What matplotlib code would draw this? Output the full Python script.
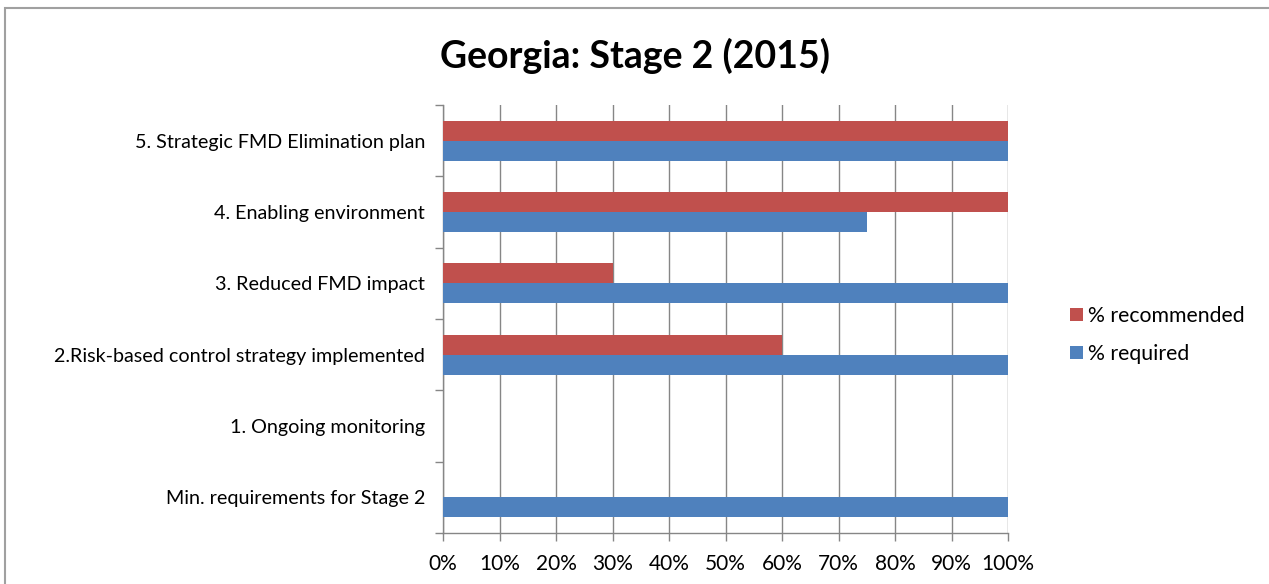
import matplotlib
matplotlib.use("Agg")
import matplotlib.pyplot as plt
import numpy as np
from matplotlib.patches import Rectangle
from matplotlib.ticker import FixedLocator

categories = ["Min. requirements for Stage 2", "1. Ongoing monitoring",
              "2.Risk-based control strategy implemented", "3. Reduced FMD impact",
              "4. Enabling environment", "5. Strategic FMD Elimination plan"]
required = [100, 0, 100, 100, 75, 100]
recommended = [0, 0, 60, 30, 100, 100]
xtick_labels = ["0%", "10%", "20%", "30%", "40%", "50%", "60%", "70%", "80%", "90%", "100%"]

plt.rcParams['font.family'] = ['Lato', 'DejaVu Sans']

W, H = 1269, 584
fig = plt.figure(figsize=(W/100, H/100), dpi=100)
fig.patch.set_facecolor('white')
# outer chart border
fig.patches.append(Rectangle((5/W, -0.05), 1.2, 1 - 8/H + 0.05, transform=fig.transFigure,
                             fill=False, edgecolor='#a0a0a0', linewidth=1.5))

ax = fig.add_axes([443/W, 1 - 533/H, (1008-443)/W, (533-105)/H])
y = np.arange(len(categories))
h = 0.28
ax.barh(y - h/2, required, height=h, color='#4f81bd', label='% required', zorder=3)
ax.barh(y + h/2, recommended, height=h, color='#c0504d', label='% recommended', zorder=3)

ax.set_xlim(0, 100)
ax.set_ylim(-0.5, len(categories) - 0.5)
ax.set_xticks(np.arange(0, 101, 10))
ax.set_xticklabels(xtick_labels, fontsize=15)
ax.set_yticks(y)
ax.set_yticklabels(categories, fontsize=14.2)
ax.yaxis.set_minor_locator(FixedLocator(np.arange(-0.5, len(categories), 1)))
ax.tick_params(axis='y', which='major', length=0, pad=13)
ax.tick_params(axis='y', which='minor', length=6, color='#868686', width=1)
ax.tick_params(axis='x', length=6, color='#868686', width=1, pad=9)
ax.grid(axis='x', color='#868686', linewidth=1, zorder=0)
for s in ['top', 'right']:
    ax.spines[s].set_visible(False)
for s in ['left', 'bottom']:
    ax.spines[s].set_color('#868686')
    ax.spines[s].set_linewidth(1)

fig.text((437+833)/2/W, 1 - 56/H, "Georgia: Stage 2 (2015)", ha='center', va='center',
         fontsize=27, fontweight='bold')

handles, labels = ax.get_legend_handles_labels()
fig.legend(handles[::-1], labels[::-1], loc='center left', bbox_to_anchor=(1051/W, 1 - 335/H),
           frameon=False, fontsize=15.3, handlelength=0.6, handleheight=0.6,
           handletextpad=0.25, labelspacing=0.85)

fig.savefig("out.png", dpi=100)
